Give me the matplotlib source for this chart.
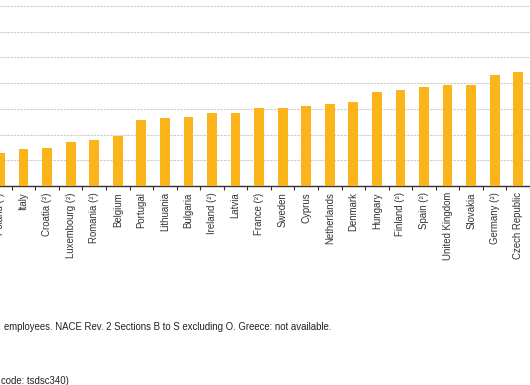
import matplotlib
matplotlib.use("Agg")
import matplotlib.pyplot as plt
import numpy as np

plt.rcParams['font.family'] = ['Liberation Sans', 'DejaVu Sans']

# data (share of enterprises, %), sorted ascending
countries = ['Poland (²)', 'Italy', 'Croatia (²)', 'Luxembourg (²)', 'Romania (²)',
             'Belgium', 'Portugal', 'Lithuania', 'Bulgaria', 'Ireland (²)', 'Latvia',
             'France (²)', 'Sweden', 'Cyprus', 'Netherlands', 'Denmark', 'Hungary',
             'Finland (²)', 'Spain (²)', 'United Kingdom', 'Slovakia', 'Germany (²)',
             'Czech Republic']
values = [6.4, 7.1, 7.3, 8.6, 8.9, 9.8, 12.8, 13.2, 13.4, 14.2, 14.2, 15.2, 15.2,
          15.6, 16.0, 16.3, 18.3, 18.6, 19.2, 19.6, 19.6, 21.5, 22.1]
yticks = [0, 5, 10, 15, 20, 25, 30, 35]

W, H = 530, 385
fig = plt.figure(figsize=(W / 100, H / 100), dpi=100)

# axes placed in pixel terms; left part of the chart is cropped away
base_px = 186
unit_px = (186 - 6) / 35.0
top_val = 37.5
ax = fig.add_axes([0, (H - base_px) / H, 1, top_val * unit_px / H])

x = np.arange(len(countries))
ax.bar(x, values, width=10 / 24, color='#FBB41A', zorder=3)

ax.set_xlim(0.125, 0.125 + W / 24)
ax.set_ylim(0, top_val)

ax.set_yticks(yticks)
ax.tick_params(axis='y', left=False, labelleft=False)
ax.yaxis.grid(True, color='#cccccc', linestyle=(0, (2, 1)), linewidth=0.8, zorder=0)

ax.set_xticks(x)
ax.set_xticklabels(countries, rotation=90, fontsize=6.9, color='#333333',
                   va='top', ha='center')
ax.tick_params(axis='x', length=0, pad=4.5)
ax.set_xticks(x + 0.5, minor=True)
ax.tick_params(axis='x', which='minor', length=3, width=0.8, color='#333333',
               direction='out')

for s in ['top', 'right', 'left']:
    ax.spines[s].set_visible(False)
ax.spines['bottom'].set_color('#333333')
ax.spines['bottom'].set_linewidth(1.0)

fig.text(4 / W, 1 - 327 / H,
         'employees. NACE Rev. 2 Sections B to S excluding O. Greece: not available.',
         fontsize=6.9, color='#222222', va='center', ha='left')
fig.text(1 / W, 1 - 381 / H, 'code: tsdsc340)',
         fontsize=6.9, color='#222222', va='center', ha='left')

fig.savefig('out.png', dpi=100)
